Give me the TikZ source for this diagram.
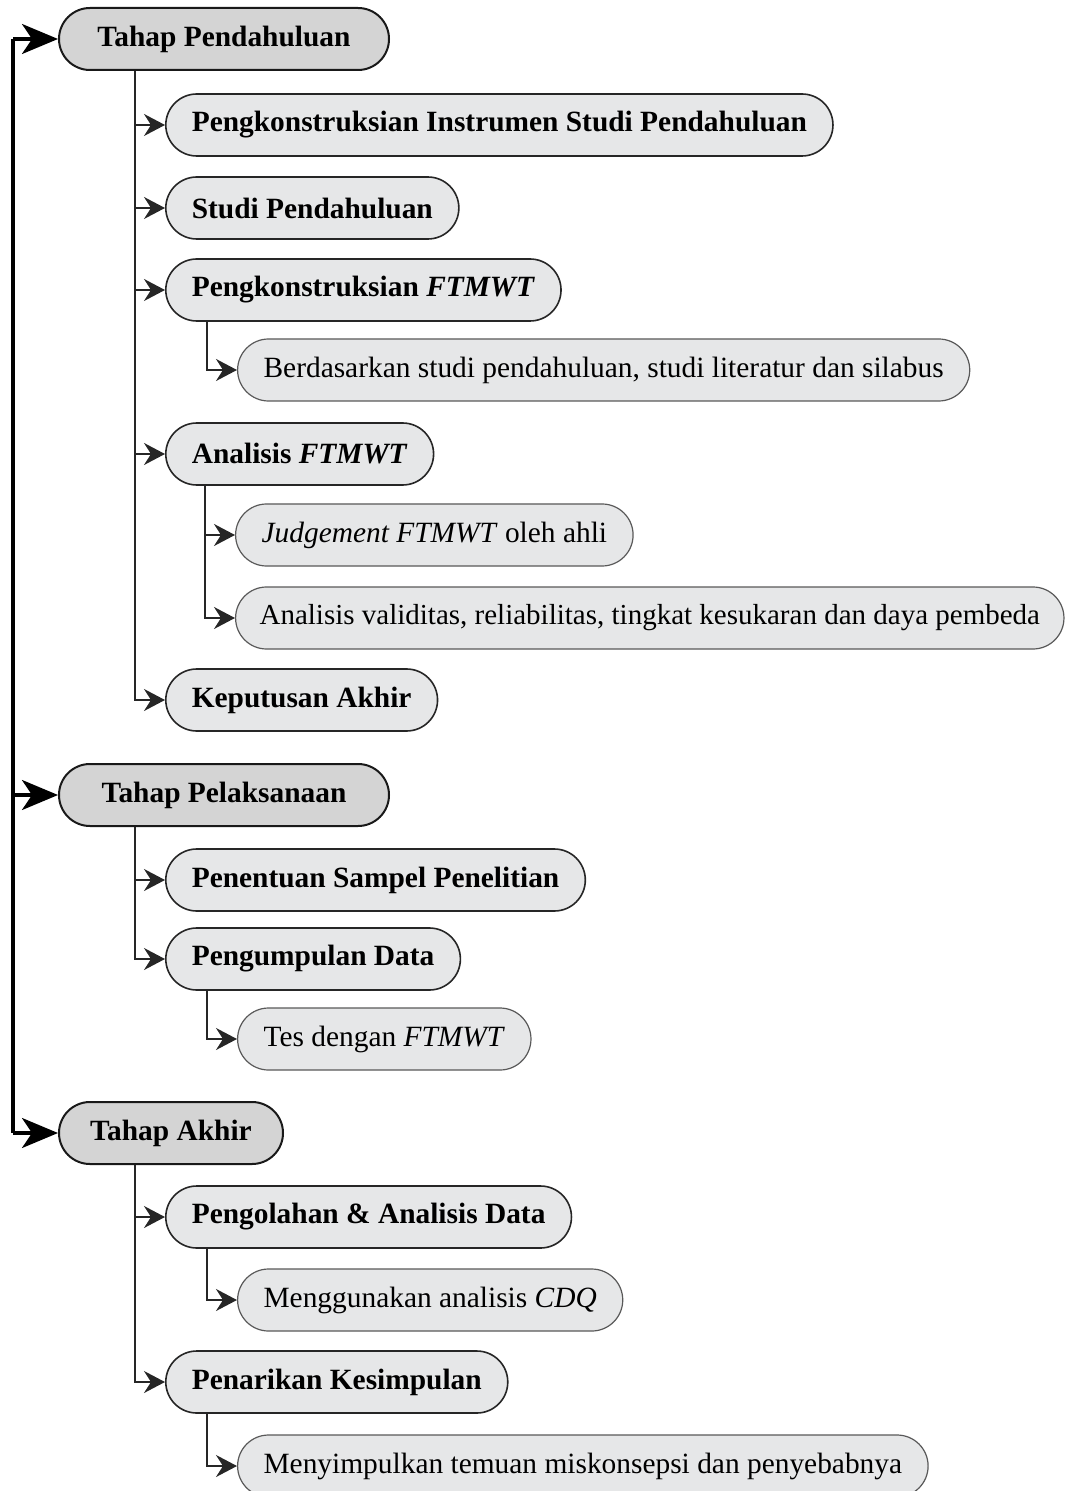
\documentclass[tikz,border=0pt]{standalone}
\usepackage{fontspec}
\setmainfont{Liberation Serif}
\usepackage{tikz}
\usepackage{xcolor}
\usetikzlibrary{positioning}
\usetikzlibrary{arrows.meta}
\definecolor{stagegray}{HTML}{D4D4D4}
\definecolor{taskgray}{HTML}{E6E7E8}
\newcommand{\boxfont}{\fontsize{14.7}{17}\selectfont}
\tikzstyle{stage} = [rectangle, rounded corners=15.5pt, minimum height=31pt, inner xsep=19pt, text centered, draw=black!90, line width=1pt, fill=stagegray, font=\boxfont\bfseries]
\tikzstyle{task} = [rectangle, rounded corners=15.5pt, minimum height=31pt, inner xsep=13pt, text centered, draw=black!85, line width=0.8pt, fill=taskgray, font=\boxfont\bfseries]
\tikzstyle{detail} = [rectangle, rounded corners=15.5pt, minimum height=31pt, inner xsep=13pt, text centered, draw=black!65, line width=0.6pt, fill=taskgray, font=\boxfont]
\tikzstyle{arrow} = [line width=0.9pt, draw=black!85, -{Stealth[length=10.5pt, width=11pt, inset=3.5pt]}]
\tikzstyle{mainarrow} = [line width=1.6pt, -{Stealth[length=18pt, width=15pt, inset=5pt]}]

\begin{document}
\begin{tikzpicture}
        \useasboundingbox (0,0) rectangle (535pt,-745.5pt);
        \node (pendahuluan) [stage, anchor=west, minimum width=165pt] at (29pt,-19.5pt) {Tahap Pendahuluan};
        \node (instrumen) [task, below=43pt of pendahuluan.west, anchor=west, xshift=53.5pt] {Pengkonstruksian Instrumen Studi Pendahuluan};
        \node (studi) [task, below=41.5pt of instrumen.west, anchor=west] {Studi Pendahuluan};
        \node (konstruksi) [task, below=41pt of studi.west, anchor=west] {Pengkonstruksian \textit{FTMWT}};
        \node (dasar) [detail, below=40pt of konstruksi.west, anchor=west, xshift=36pt] {Berdasarkan studi pendahuluan, studi literatur dan silabus};
        \node (analisis) [task, below=82pt of konstruksi.west, anchor=west] {Analisis \textit{FTMWT}};
        \node (judgement) [detail, below=40.5pt of analisis.west, anchor=west, xshift=35pt] {\textit{Judgement FTMWT} oleh ahli};
        \node (validitas) [detail, below=41.5pt of judgement.west, anchor=west, inner xsep=12pt, font=\fontsize{14.5}{17}\selectfont] {Analisis validitas, reliabilitas, tingkat kesukaran dan daya pembeda};
        \node (keputusan) [task, below=123pt of analisis.west, anchor=west] {Keputusan Akhir};
        \node (pelaksanaan) [stage, below=378pt of pendahuluan.west, anchor=west, minimum width=165pt] {Tahap Pelaksanaan};
        \node (sampel) [task, below=42.5pt of pelaksanaan.west, anchor=west, xshift=53.5pt] {Penentuan Sampel Penelitian};
        \node (kumpul) [task, below=39.5pt of sampel.west, anchor=west] {Pengumpulan Data};
        \node (tes) [detail, below=40pt of kumpul.west, anchor=west, xshift=36pt] {Tes dengan \textit{FTMWT}};
        \node (akhir) [stage, below=169pt of pelaksanaan.west, anchor=west, inner xsep=13pt, minimum width=112pt] {Tahap Akhir};
        \node (olah) [task, below=42pt of akhir.west, anchor=west, xshift=53.5pt] {Pengolahan \& Analisis Data};
        \node (cdq) [detail, below=41.5pt of olah.west, anchor=west, xshift=36pt] {Menggunakan analisis \textit{CDQ}};
        \node (tarik) [task, below=82.5pt of olah.west, anchor=west] {Penarikan Kesimpulan};
        \node (simpul) [detail, below=42pt of tarik.west, anchor=west, xshift=36pt] {Menyimpulkan temuan miskonsepsi dan penyebabnya};

        % main rail
        \coordinate (railtop) at ([xshift=-22.5pt]pendahuluan.west);
        \coordinate (railbottom) at ([xshift=-22.5pt]akhir.west);
        \draw [line width=1.6pt] (railtop) -- (railbottom);
        \draw [mainarrow] (railtop) -- (pendahuluan);
        \draw [mainarrow] (railtop |- pelaksanaan) -- (pelaksanaan);
        \draw [mainarrow] (railbottom) -- (akhir);

        \draw [arrow] ([xshift=38.5pt]pendahuluan.south west) |- (instrumen);
        \draw [arrow] ([xshift=38.5pt]pendahuluan.south west) |- (studi);
        \draw [arrow] ([xshift=38.5pt]pendahuluan.south west) |- (konstruksi);
        \draw [arrow] ([xshift=38.5pt]pendahuluan.south west) |- (analisis);
        \draw [arrow] ([xshift=38.5pt]pendahuluan.south west) |- (keputusan);
        \draw [arrow] ([xshift=21pt]konstruksi.south west) |- (dasar);
        \draw [arrow] ([xshift=20pt]analisis.south west) |- (judgement);
        \draw [arrow] ([xshift=20pt]analisis.south west) |- (validitas);

        \draw [arrow] ([xshift=38.5pt]pelaksanaan.south west) |- (sampel);
        \draw [arrow] ([xshift=38.5pt]pelaksanaan.south west) |- (kumpul);
        \draw [arrow] ([xshift=21pt]kumpul.south west) |- (tes);

        \draw [arrow] ([xshift=38.5pt]akhir.south west) |- (olah);
        \draw [arrow] ([xshift=38.5pt]akhir.south west) |- (tarik);
        \draw [arrow] ([xshift=21pt]olah.south west) |- (cdq);
        \draw [arrow] ([xshift=21pt]tarik.south west) |- (simpul);
    \end{tikzpicture}
\end{document}
